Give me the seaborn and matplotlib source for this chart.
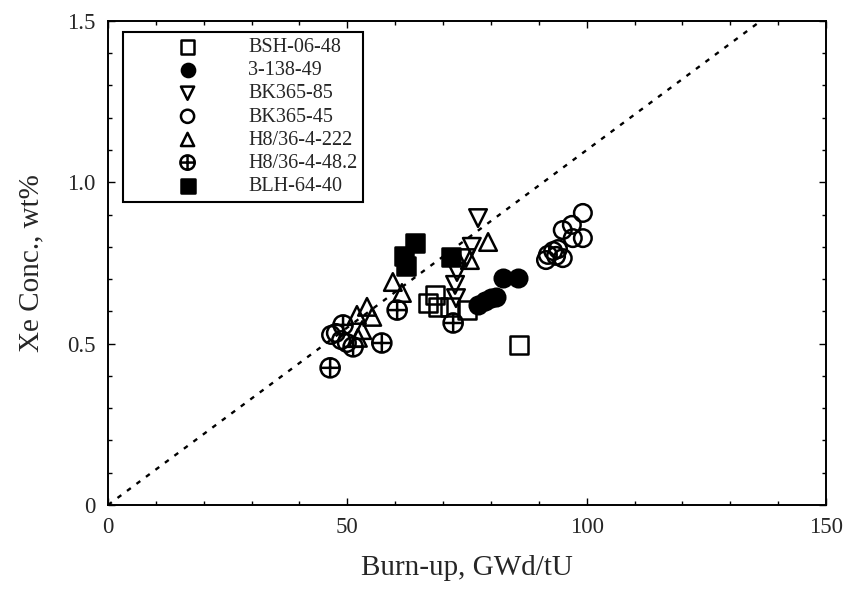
import numpy as np
import matplotlib
matplotlib.use("Agg")
import matplotlib.pyplot as plt
from matplotlib.path import Path
from matplotlib.ticker import MultipleLocator
import seaborn as sns

# data (burn-up GWd/tU, Xe wt%)
bsh_x = [68.3, 66.8, 68.9, 71.4, 75.0, 85.9]
bsh_y = [0.651, 0.626, 0.614, 0.614, 0.604, 0.496]

c3_x = [82.5, 85.6, 77.3, 78.8, 80.0, 81.1]
c3_y = [0.703, 0.703, 0.620, 0.632, 0.641, 0.645]

bk85_x = [77.3, 76.0, 74.8, 72.9, 72.5, 72.7]
bk85_y = [0.889, 0.800, 0.765, 0.722, 0.682, 0.641]

bk45_x = [99.2, 96.9, 95.0, 97.1, 99.2, 95.0, 91.9, 93.0, 94.0, 91.5, 93.6,
          46.6, 47.6, 48.7, 49.9]
bk45_y = [0.905, 0.868, 0.852, 0.827, 0.827, 0.765, 0.775, 0.787, 0.793, 0.759, 0.772,
          0.527, 0.533, 0.511, 0.502]

h222_x = [79.4, 75.6, 59.5, 61.4, 54.1, 52.0, 55.2, 53.1, 52.2]
h222_y = [0.815, 0.759, 0.691, 0.657, 0.614, 0.589, 0.583, 0.542, 0.518]

h482_x = [46.4, 60.4, 57.2, 49.1, 51.2, 72.1]
h482_y = [0.425, 0.604, 0.502, 0.558, 0.490, 0.564]

blh_x = [64.1, 61.8, 62.3, 71.7]
blh_y = [0.812, 0.772, 0.741, 0.769]

ref_x = [0, 150]
ref_slope = 0.011

# circle with a cross inside
circ = Path.unit_circle()
cross = Path([(-1, 0), (1, 0), (0, -1), (0, 1)],
             [Path.MOVETO, Path.LINETO, Path.MOVETO, Path.LINETO])
oplus = Path.make_compound_path(circ, cross)

series = [
    ("BSH-06-48", bsh_x, bsh_y, "s", "none"),
    ("3-138-49", c3_x, c3_y, "o", "black"),
    ("BK365-85", bk85_x, bk85_y, "v", "none"),
    ("BK365-45", bk45_x, bk45_y, "o", "none"),
    ("H8/36-4-222", h222_x, h222_y, "^", "none"),
    ("H8/36-4-48.2", h482_x, h482_y, oplus, "none"),
    ("BLH-64-40", blh_x, blh_y, "s", "black"),
]

sns.set_style("ticks")
plt.rcParams["font.family"] = ["Liberation Serif", "DejaVu Serif"]

fig = plt.figure(figsize=(8.44, 5.92), dpi=100)
ax = fig.add_axes([0.128, 0.147, 0.8507, 0.8176])

sns.lineplot(x=ref_x, y=[ref_slope * v for v in ref_x], ax=ax, color="black",
             linestyle=(0, (2, 3)), linewidth=1.7, legend=False)

for name, xs, ys, mk, fc in series:
    sizes = 190 if mk is oplus else 160
    sns.scatterplot(x=xs, y=ys, ax=ax, marker=mk, color="black", facecolor=fc,
                    edgecolor="black", linewidth=1.8, s=sizes, label=name)

ax.set_xlim(0, 150)
ax.set_ylim(0, 1.5)
ax.xaxis.set_minor_locator(MultipleLocator(10))
ax.yaxis.set_minor_locator(MultipleLocator(0.1))
ax.set_yticks([0, 0.5, 1.0, 1.5])
ax.set_yticklabels(["0", "0.5", "1.0", "1.5"])
ax.set_xticks([0, 50, 100, 150])
ax.set_xticklabels(["0", "50", "100", "150"])
ax.tick_params(which="both", direction="in", top=True, right=True,
               color="black", width=1.0)
ax.tick_params(which="major", length=5, labelsize=16.5, pad=9)
ax.tick_params(which="minor", length=3)
for sp in ax.spines.values():
    sp.set_color("black")
    sp.set_linewidth(1.4)

ax.set_xlabel("Burn-up, GWd/tU", fontsize=21, labelpad=12)
ax.set_ylabel("Xe Conc., wt%", fontsize=21, labelpad=16)

leg = ax.legend(loc="upper left", bbox_to_anchor=(0.021, 0.977), borderaxespad=0,
                fontsize=14.5, handlelength=5.8, handletextpad=0.1, labelspacing=0.2,
                borderpad=0.3, fancybox=False, framealpha=1, edgecolor="black",
                scatterpoints=1, markerscale=0.75)
leg.get_frame().set_linewidth(1.5)

fig.savefig("out.png", dpi=100)
